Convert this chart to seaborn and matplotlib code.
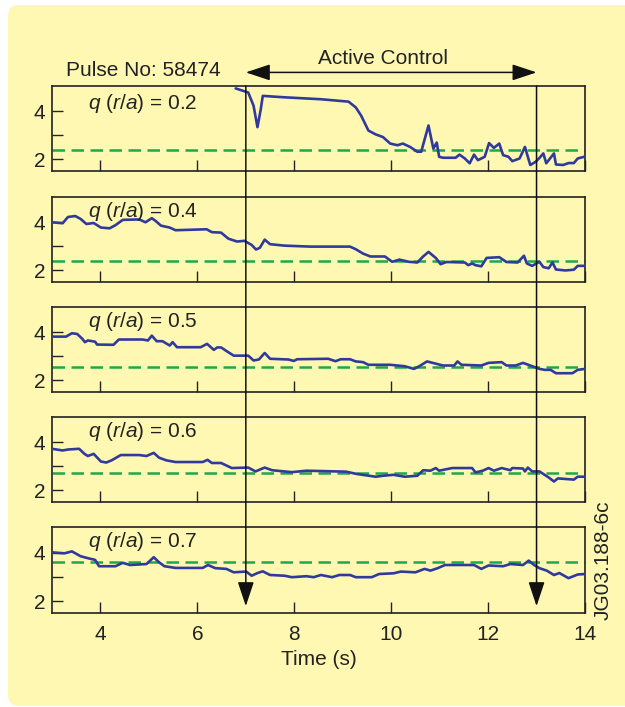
import numpy as np
import pandas as pd
import matplotlib
matplotlib.use("Agg")
import matplotlib.pyplot as plt
import seaborn as sns
from matplotlib.patches import FancyBboxPatch, ConnectionPatch

# ---------------- data ----------------
t1 = [6.79, 7.05, 7.16, 7.24, 7.31, 7.35, 7.8, 8.55, 9.12, 9.27, 9.38, 9.53, 9.68, 9.83, 9.98,
      10.13, 10.24, 10.39, 10.54, 10.62, 10.77, 10.87, 10.94, 10.99, 11.07, 11.33, 11.41, 11.52,
      11.62, 11.71, 11.79, 11.93, 12.02, 12.12, 12.23, 12.31, 12.42, 12.5, 12.65, 12.76, 12.87,
      12.98, 13.05, 13.14, 13.2, 13.36, 13.4, 13.55, 13.66, 13.77, 13.85, 14.0]
q1 = [4.95, 4.78, 4.23, 3.34, 4.1, 4.64, 4.58, 4.5, 4.4, 4.16, 3.82, 3.2, 3.04, 2.93, 2.66,
      2.59, 2.66, 2.52, 2.32, 2.32, 3.41, 2.45, 2.7, 2.11, 2.07, 2.07, 2.2, 2.04,
      1.84, 2.2, 1.97, 2.11, 2.68, 2.48, 2.66, 2.18, 2.11, 1.93, 2.04, 2.52, 1.77,
      1.9, 2.04, 2.25, 1.84, 2.25, 1.79, 1.77, 1.85, 1.85, 2.04, 2.12]

t2 = [3.0, 3.22, 3.33, 3.48, 3.59, 3.71, 3.86, 4.01, 4.19, 4.31, 4.46, 4.8, 4.93, 5.06, 5.13,
      5.25, 5.43, 5.55, 6.19, 6.3, 6.49, 6.64, 6.82, 6.97, 7.12, 7.21, 7.29, 7.39, 7.5, 7.8,
      8.33, 9.15, 9.27, 9.42, 9.57, 9.87, 10.02, 10.17, 10.36, 10.54, 10.66, 10.77, 10.92,
      11.02, 11.14, 11.52, 11.59, 11.67, 11.74, 11.86, 11.97, 12.23, 12.38, 12.61, 12.74,
      12.8, 12.91, 13.06, 13.14, 13.25, 13.33, 13.4, 13.59, 13.77, 13.85, 14.0]
q2 = [4.0, 3.96, 4.22, 4.26, 4.14, 3.93, 3.97, 3.78, 3.75, 3.88, 4.1, 4.12, 4.0, 4.17, 4.07,
      3.86, 3.78, 3.67, 3.71, 3.59, 3.57, 3.32, 3.2, 3.23, 3.06, 2.87, 2.94, 3.28, 3.09, 3.03,
      2.99, 2.99, 2.88, 2.7, 2.58, 2.58, 2.36, 2.45, 2.36, 2.33, 2.58, 2.77, 2.52,
      2.26, 2.35, 2.33, 2.22, 2.29, 2.22, 2.17, 2.52, 2.55, 2.35, 2.33, 2.61,
      2.29, 2.19, 2.36, 2.14, 2.09, 2.33, 2.04, 2.0, 2.03, 2.19, 2.19]

t3 = [3.0, 3.29, 3.41, 3.52, 3.63, 3.68, 3.74, 3.89, 3.93, 4.27, 4.38, 4.87, 4.98, 5.06, 5.16,
      5.28, 5.43, 5.49, 5.58, 6.07, 6.2, 6.34, 6.41, 6.49, 6.64, 6.75, 7.05, 7.16, 7.27, 7.39,
      7.5, 7.88, 7.99, 8.06, 8.7, 8.85, 8.96, 9.15, 9.27, 9.42, 9.53, 9.98, 10.28, 10.47, 10.58,
      10.74, 11.07, 11.3, 11.37, 11.45, 11.86, 12.01, 12.28, 12.38, 12.57, 12.72, 12.87, 13.06,
      13.17, 13.29, 13.4, 13.74, 13.85, 14.0]
q3 = [3.82, 3.82, 3.96, 3.93, 3.72, 3.59, 3.66, 3.61, 3.49, 3.48, 3.7, 3.7, 3.66, 3.86, 3.63,
      3.63, 3.45, 3.59, 3.38, 3.38, 3.52, 3.27, 3.37, 3.37, 3.17, 3.03, 3.03, 2.83, 2.87, 3.14,
      2.9, 2.87, 2.81, 2.88, 2.9, 2.8, 2.88, 2.88, 2.79, 2.76, 2.65, 2.65, 2.59, 2.48, 2.59,
      2.79, 2.62, 2.62, 2.79, 2.65, 2.62, 2.73, 2.76, 2.62, 2.62, 2.73, 2.62, 2.48,
      2.44, 2.44, 2.3, 2.3, 2.44, 2.48]

t4 = [3.0, 3.22, 3.33, 3.56, 3.67, 3.74, 3.86, 4.01, 4.12, 4.23, 4.42, 4.8, 4.95, 5.1, 5.21,
      5.36, 5.55, 6.11, 6.21, 6.3, 6.49, 6.71, 7.05, 7.2, 7.39, 7.54, 7.95, 8.25, 9.07, 9.3,
      9.68, 9.83, 10.05, 10.28, 10.54, 10.66, 10.81, 10.92, 10.99, 11.11, 11.26, 11.67, 11.74,
      11.89, 12.01, 12.12, 12.28, 12.46, 12.5, 12.72, 12.76, 12.82, 12.91, 13.06, 13.25, 13.36,
      13.44, 13.77, 13.85, 14.0]
q4 = [3.73, 3.66, 3.7, 3.73, 3.52, 3.43, 3.52, 3.2, 3.16, 3.25, 3.47, 3.47, 3.43, 3.56, 3.36,
      3.25, 3.18, 3.18, 3.27, 3.14, 3.14, 2.93, 2.95, 2.79, 2.95, 2.84, 2.76, 2.82, 2.78, 2.68,
      2.57, 2.61, 2.65, 2.57, 2.61, 2.84, 2.82, 2.93, 2.82, 2.87, 2.93, 2.93, 2.75,
      2.82, 2.93, 2.82, 2.93, 2.84, 2.93, 2.91, 2.79, 2.95, 2.79, 2.79, 2.54, 2.37,
      2.5, 2.45, 2.57, 2.57]

t5 = [3.0, 3.26, 3.41, 3.59, 3.74, 3.89, 3.97, 4.31, 4.46, 4.61, 4.95, 5.1, 5.21, 5.32, 5.55,
      6.11, 6.22, 6.37, 6.6, 6.75, 7.01, 7.12, 7.24, 7.35, 7.5, 7.8, 7.95, 8.25, 8.4, 8.55,
      8.78, 8.93, 9.15, 9.27, 9.6, 9.75, 10.05, 10.2, 10.5, 10.69, 10.81, 10.96, 11.11, 11.71,
      11.86, 12.01, 12.31, 12.46, 12.72, 12.84, 12.95, 13.06, 13.21, 13.36, 13.47, 13.66,
      13.85, 14.0]
q5 = [4.01, 3.97, 4.05, 3.85, 3.77, 3.7, 3.44, 3.44, 3.58, 3.49, 3.53, 3.81, 3.6, 3.44, 3.37,
      3.37, 3.49, 3.36, 3.33, 3.19, 3.22, 3.05, 3.16, 3.23, 3.08, 3.05, 2.99, 3.03, 2.99, 3.08,
      2.99, 3.08, 3.08, 2.99, 2.99, 3.12, 3.15, 3.22, 3.19, 3.33, 3.26, 3.36, 3.49, 3.49,
      3.33, 3.47, 3.44, 3.53, 3.49, 3.67, 3.49, 3.36, 3.26, 3.08, 3.16, 2.95,
      3.1, 3.12]

radii = ["0.2", "0.4", "0.5", "0.6", "0.7"]
targets = [2.4, 2.4, 2.54, 2.72, 3.63]
xticks = [4, 6, 8, 10, 12, 14]
yticks = [2, 3, 4]
ytick_labels = ["2", "", "4"]
control_start, control_end = 7, 13
pulse_label = "Pulse No: 58474"
control_label = "Active Control"
xlabel = "Time (s)"
figure_id = "JG03.188-6c"

series = [(t1, q1), (t2, q2), (t3, q3), (t4, q4), (t5, q5)]

# ---------------- style ----------------
sns.set_style("ticks")
plt.rcParams["font.family"] = ["Liberation Sans", "DejaVu Sans"]
plt.rcParams["mathtext.fontset"] = "custom"
plt.rcParams["mathtext.it"] = "Liberation Sans:italic"
plt.rcParams["mathtext.rm"] = "Liberation Sans"

BG = "#FFF8B3"
BLUE = "#2F3A9C"
GREEN = "#1DA84A"
FS = 15
TXT = "#222222"

W, H = 625, 707
fig = plt.figure(figsize=(W / 100, H / 100), dpi=100, facecolor="white")

# rounded yellow background
bg = FancyBboxPatch((8 / 100, 1 / 100), 7.0, (702 - 1) / 100,
                    boxstyle="round,pad=0,rounding_size=0.11",
                    transform=fig.dpi_scale_trans, facecolor=BG, edgecolor="none", zorder=-10)
fig.patches.append(bg)

left_px, right_px = 52, 585
tops = [86, 197, 307, 417, 527]
heights = [85, 85, 85, 85, 86]
axes = []
for i, (t, q) in enumerate(series):
    top = tops[i]
    hp = heights[i]
    ax = fig.add_axes([left_px / W, 1 - (top + hp) / H,
                       (right_px - left_px) / W, hp / H])
    ax.set_zorder(2)
    ax.patch.set_alpha(0)
    df = pd.DataFrame({"time": t, "q": q})
    sns.lineplot(data=df, x="time", y="q", ax=ax, color=BLUE, lw=1.9,
                 estimator=None, sort=False, zorder=3)
    ax.axhline(targets[i], color=GREEN, lw=1.8, dashes=(5, 2.6), zorder=2)
    ax.set_xlim(3, 14)
    ax.set_ylim(1.52, 5.05)
    ax.set_xticks(xticks)
    ax.set_yticks(yticks)
    ax.set_yticklabels(ytick_labels)
    ax.tick_params(direction="in", length=8, width=1.0, color=TXT,
                   labelsize=FS, labelcolor=TXT, pad=5)
    ax.tick_params(axis="x", pad=9)
    ax.set_xlabel("")
    ax.set_ylabel("")
    for s in ax.spines.values():
        s.set_linewidth(1.2)
        s.set_color(TXT)
        s.set_visible(True)
    if i < 4:
        ax.set_xticklabels([])
    ty = 0.79 if i == 0 else 0.83
    ax.text(0.068, ty, rf"$q$ ($r$/$a$) = {radii[i]}", transform=ax.transAxes,
            fontsize=FS, va="center", ha="left", color=TXT)
    axes.append(ax)

ax5 = axes[-1]
ax5.set_xlabel(xlabel, fontsize=FS, color=TXT, labelpad=4)

# vertical arrows marking the active-control window
for xc in (control_start, control_end):
    con = ConnectionPatch(xyA=(xc, 1.0), coordsA=axes[0].get_xaxis_transform(),
                          xyB=(xc, 1.8), coordsB=ax5.transData,
                          arrowstyle="-|>,head_length=0.75,head_width=0.25",
                          mutation_scale=20, lw=1.1, color="#111111", zorder=5)
    fig.add_artist(con)

# horizontal double arrow + label
axes[0].annotate("", xy=(control_end, 1.16), xytext=(control_start, 1.16),
                 xycoords=axes[0].get_xaxis_transform(),
                 textcoords=axes[0].get_xaxis_transform(),
                 arrowprops=dict(arrowstyle="<|-|>,head_length=0.75,head_width=0.25",
                                 mutation_scale=20, lw=1.1, color="#111111",
                                 shrinkA=0, shrinkB=0),
                 annotation_clip=False)
fig.text(383 / W, 1 - 59 / H, control_label, fontsize=FS, ha="center", va="center", color=TXT)
fig.text(66 / W, 1 - 71 / H, pulse_label, fontsize=FS, ha="left", va="center", color=TXT)
fig.text(603 / W, 1 - 560 / H, figure_id, fontsize=FS, rotation=90, ha="center", va="center",
         color=TXT)

fig.savefig("out.png", dpi=100, facecolor="white")
